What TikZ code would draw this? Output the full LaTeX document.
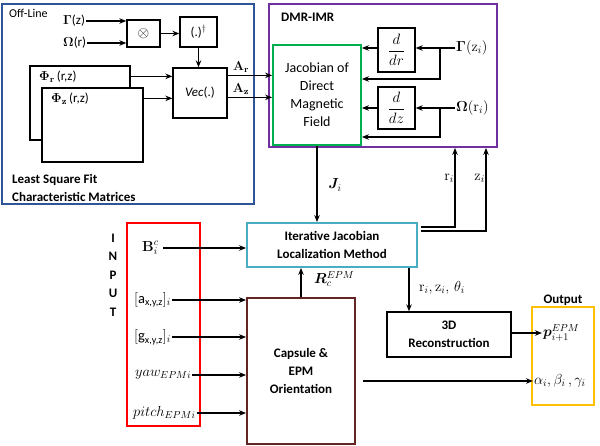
\RequirePackage{fix-cm}
\documentclass[tikz,border=0pt]{standalone}
\usepackage{amsmath,amssymb,bm}
\usepackage[no-math]{fontspec}
\setmainfont{Carlito}
\usetikzlibrary{arrows.meta,calc}
\definecolor{offblue}{HTML}{2F5597}
\definecolor{dmrpurple}{HTML}{7030A0}
\definecolor{jgreen}{HTML}{00B050}
\definecolor{inred}{HTML}{FF0000}
\definecolor{ilmcyan}{HTML}{4BACC6}
\definecolor{capbrown}{HTML}{632523}
\definecolor{outyellow}{HTML}{FFC000}
\begin{document}
\begin{tikzpicture}[x=1pt,y=-1pt,
  bx/.style={draw, line width=1.3pt, inner sep=0pt, fill=white},
  cbx/.style={draw=#1, line width=1.8pt, inner sep=0pt},
  arr/.style={-{Stealth[length=7pt,width=5.5pt]}, line width=1.1pt},
  lbl/.style={inner sep=1pt, font=\fontsize{13}{15.6}\selectfont},
  mlbl/.style={inner sep=1pt, font=\fontsize{14.5}{17}\selectfont},
  bl/.style={inner sep=1pt, align=center, font=\fontsize{13}{18}\selectfont\bfseries}]
\useasboundingbox (0,0) rectangle (600,446);

% ---------- big frames ----------
\node[cbx=offblue, minimum width=252pt, minimum height=200pt] (off) at (128,104) {};
\node[cbx=dmrpurple, minimum width=228pt, minimum height=143pt] (dmr) at (383,75.5) {};
\node[cbx=jgreen, minimum width=88pt, minimum height=100pt, align=center,
      font=\fontsize{14}{18}\selectfont] (jac) at (317,95) {Jacobian of\\Direct\\Magnetic\\Field};

\node[anchor=west, inner sep=0pt, font=\fontsize{12}{14}\selectfont] (offl) at (9,13) {Off-Line};
\node[anchor=west, inner sep=0pt, font=\fontsize{13}{15}\selectfont\bfseries] (dmrl) at (281,17) {DMR-IMR};
\node[anchor=west, inner sep=0pt, align=left, font=\fontsize{13}{18}\selectfont\bfseries] (lsq) at (12,188) {Least Square Fit\\Characteristic Matrices};

% ---------- off-line internals ----------
\node[bx, minimum width=33pt, minimum height=27pt] (ot) at (143.5,33.5) {\fontsize{15}{17}\selectfont$\otimes$};
\node[bx, minimum width=37pt, minimum height=30pt] (dag) at (198.5,32) {\fontsize{13}{15}\selectfont(.)$^{\dagger}$};
\node[bx, minimum width=54pt, minimum height=50pt] (vec) at (200,93) {\fontsize{13}{15}\selectfont\textit{Vec}(.)};
\node[bx, minimum width=100pt, minimum height=74pt] (phir) at (80,103) {};
\node[anchor=west, lbl] at (38,77) {$\mathbf{\Phi}_{\mathbf{r}}$\,(r,z)};
\node[bx, minimum width=101pt, minimum height=74pt] (phiz) at (92.5,125) {};
\node[anchor=west, lbl] at (50,99) {$\mathbf{\Phi}_{\mathbf{z}}$\,(r,z)};

\node[lbl, anchor=west] (gz) at (62,21) {$\mathbf{\Gamma}$(z)};
\node[lbl, anchor=west] (orr) at (62,43) {$\mathbf{\Omega}$(r)};
\draw[arr] (gz.east) -- (gz.east -| ot.west);
\draw[arr] (orr.east) -- (orr.east -| ot.west);
\draw[arr] (ot.east) -- (ot.east -| dag.west);
\draw[arr] (dag.south) -- (dag.south |- vec.north);
\draw[arr] ([yshift=-11pt]phir.north east) coordinate (p1) -- (p1 -| vec.west);
\draw[arr] ([yshift=-11pt]phiz.north east) coordinate (p2) -- (p2 -| vec.west);
\draw[arr] ([yshift=-8pt]vec.north east) coordinate (p3) -- (p3 -| jac.west);
\draw[arr] ([yshift=-30pt]vec.north east) coordinate (p4) -- (p4 -| jac.west);
\node[lbl] (ar) at (241,67) {$\mathbf{A}_{\mathbf{r}}$};
\node[lbl] (az) at (241,89) {$\mathbf{A}_{\mathbf{z}}$};

% ---------- DMR internals ----------
\node[bx, minimum width=37pt, minimum height=44pt] (ddr) at (396.5,50) {\fontsize{15}{18}\selectfont$\dfrac{d}{dr}$};
\node[bx, minimum width=37pt, minimum height=42pt] (ddz) at (396.5,108) {\fontsize{15}{18}\selectfont$\dfrac{d}{dz}$};
\node[mlbl, anchor=west] (gzi) at (455,48) {$\mathbf{\Gamma}(\mathrm{z}_i)$};
\node[mlbl, anchor=west] (ori) at (455,108) {$\mathbf{\Omega}(\mathrm{r}_i)$};
\coordinate (br1) at (440,48);
\coordinate (br2) at (440,108);
\draw[arr] (gzi.west) -- (gzi.west -| ddr.east);
\draw[arr] (ddr.west |- gzi.west) -- (gzi.west -| jac.east);
\draw[arr] (br1) -- (440,79) -- (jac.east |- 0,79);
\draw[arr] (ori.west) -- (ori.west -| ddz.east);
\draw[arr] (ddz.west |- ori.west) -- (ori.west -| jac.east);
\draw[arr] (br2) -- (440,137) -- (jac.east |- 0,137);

% ---------- lower part ----------
\node[cbx=ilmcyan, minimum width=170pt, minimum height=44pt, align=center,
      font=\fontsize{13}{18}\selectfont\bfseries] (ilm) at (332,245) {Iterative Jacobian\\Localization Method};
\node[cbx=capbrown, minimum width=108pt, minimum height=146pt, align=center,
      font=\fontsize{13}{18}\selectfont\bfseries] (cap) at (301,371) {Capsule \&\\EPM\\Orientation};
\node[cbx=inred, minimum width=73pt, minimum height=203pt] (inp) at (163.5,324.5) {};
\node[draw, line width=1.3pt, minimum width=124pt, minimum height=45pt, align=center, inner sep=0pt,
      font=\fontsize{13}{18}\selectfont\bfseries] (d3) at (449,334.5) {3D\\Reconstruction};
\node[cbx=outyellow, minimum width=62pt, minimum height=98pt] (outb) at (563,356) {};
\node[bl, font=\fontsize{13}{15}\selectfont\bfseries] (outl) at (563,300) {Output};
\node[bl, font=\fontsize{13}{18.5}\selectfont\bfseries] (inpl) at (113,275) {I\\N\\P\\U\\T};

% J_i
\draw[arr] (jac.south) -- (jac.south |- ilm.north);
\node[mlbl] (jl) at (335,185) {$\bm{J}_i$};
% R
\draw[arr] (cap.north) -- (cap.north |- ilm.south);
\node[mlbl, anchor=west] (rl) at (313,279) {$\bm{R}_c^{EPM}$};
% r_i, z_i up
\coordinate (rup) at (455,0);
\coordinate (zup) at (486,0);
\draw[arr] ([xshift=3pt,yshift=18pt]ilm.east) -| (rup |- dmr.south);
\draw[arr] ([xshift=3pt,yshift=14pt]ilm.east) -| (zup |- dmr.south);
\node[mlbl, anchor=east] (ril) at (455,178) {$\mathrm{r}_i$};
\node[mlbl, anchor=east] (zil) at (486,178) {$\mathrm{z}_i$};
% to 3D
\draw[arr] ([xshift=77pt]ilm.south) coordinate (p5) -- (p5 |- d3.north);
\node[mlbl, anchor=west] (rzt) at (418,288) {$\mathrm{r}_i,\mathrm{z}_i,\,\theta_i$};

% outputs
\node[mlbl, anchor=west] (pl) at (542,333) {$\bm{p}_{i+1}^{EPM}$};
\node[mlbl, anchor=west] (al) at (533,381) {$\alpha_i,\beta_i\,,\gamma_i$};
\draw[arr] (d3.east |- pl.west) -- (pl.west);
\draw[arr] ([xshift=7pt,yshift=-10pt]cap.east) coordinate (p6) -- (p6 -| al.west);

% inputs
\node[mlbl, anchor=west] (bl) at (141,248) {$\mathbf{B}_i^c$};
\node[mlbl, anchor=west] (al2) at (133,300) {$[\text{a}_{\text{x,y,z}}]_i$};
\node[mlbl, anchor=west] (gl) at (133,337) {$[\text{g}_{\text{x,y,z}}]_i$};
\node[mlbl, anchor=west] (yl) at (134,375) {$yaw_{EPMi}$};
\node[mlbl, anchor=west] (pil) at (132,413) {$pitch_{EPMi}$};
\draw[arr] ([xshift=3pt]bl.east) -- (bl.east -| ilm.west);
\draw[arr] (al2.east) -- (al2.east -| cap.west);
\draw[arr] (gl.east) -- (gl.east -| cap.west);
\draw[arr] (yl.east) -- (yl.east -| cap.west);
\draw[arr] (pil.east) -- (pil.east -| cap.west);
\end{tikzpicture}
\end{document}
